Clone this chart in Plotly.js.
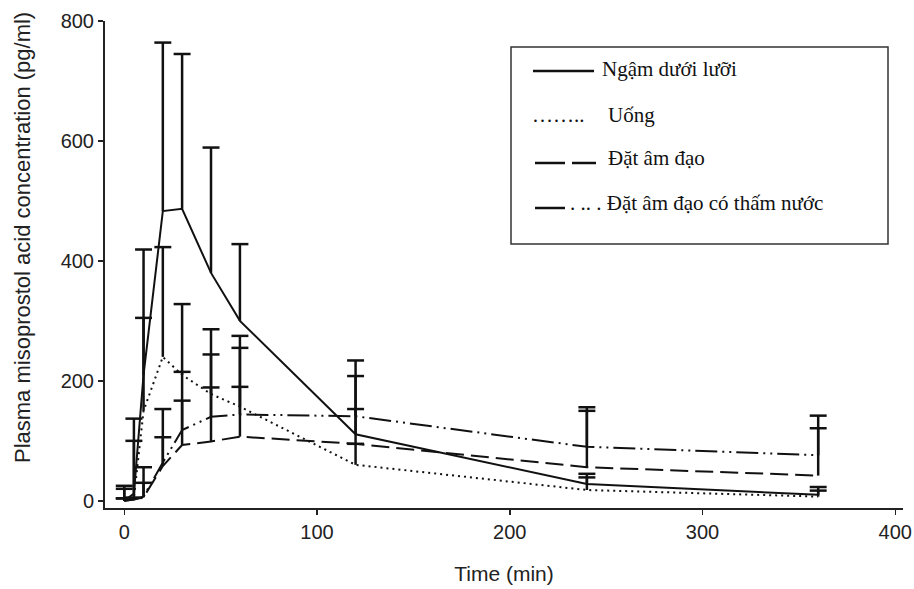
<!DOCTYPE html>
<html><head><meta charset="utf-8">
<script src="https://cdn.plot.ly/plotly-3.0.1.min.js"></script>
<style>html,body{margin:0;padding:0;background:#fff}#chart{width:914px;height:589px}</style>
</head><body><div id="chart"></div>
<script>
// Time points (min)
const times = [0, 5, 10, 20, 30, 45, 60, 120, 240, 360];

// Mean concentrations (pg/ml)
const sublingual      = [0, 12, 210, 483, 487, 380, 300, 111, 28, 10];
const oral            = [0, 5, 150, 240, 210, 178, 157, 60, 18, 7];
const vaginal         = [0, 2, 6, 58, 93, 99, 107, 95, 56, 42];
const vaginalWater    = [0, 2, 7, 64, 118, 140, 144, 141, 90, 76];

// Upper end of the error bars (mean + SD), pg/ml
const sublingualUpper   = [25, 137, 419, 764, 745, 589, 428, 234, 45, 23];
const oralUpper         = [20, 100, 305, 423, 328, 286, 275, 95, 39, 17];
const vaginalUpper      = [4, 5, 30, 106, 167, 189, 190, 153, 150, 121];
const vaginalWaterUpper = [4, 5, 56, 153, 215, 244, 255, 208, 156, 142];

const seriesNames = ["Ngậm dưới lưỡi", "Uống", "Đặt âm đạo", "Đặt âm đạo có thấm nước"];
const xTicks = [0, 100, 200, 300, 400];
const yTicks = [0, 200, 400, 600, 800];
const xTitle = "Time (min)";
const yTitle = "Plasma misoprostol acid concentration (pg/ml)";

const INK = '#111';
const CAP = 4.4; // half cap width, in minutes (about 8.5 px)

function lineTrace(y, dash, name) {
  return {x: times, y: y, type: 'scatter', mode: 'lines', name: name,
    line: {color: INK, width: 2, dash: dash}, showlegend: false, hoverinfo: 'skip'};
}
// one-sided (upward) error bars: stem from the mean to mean+SD, with a cap on top
function errTrace(y, upper) {
  const xs = [], ys = [];
  times.forEach((t, i) => {
    xs.push(t, t, null, t - CAP, t + CAP, null);
    ys.push(y[i], upper[i], null, upper[i], upper[i], null);
  });
  return {x: xs, y: ys, type: 'scatter', mode: 'lines', line: {color: INK, width: 2.5},
    showlegend: false, hoverinfo: 'skip', connectgaps: false};
}
const data = [
  errTrace(sublingual, sublingualUpper),
  errTrace(oral, oralUpper),
  errTrace(vaginal, vaginalUpper),
  errTrace(vaginalWater, vaginalWaterUpper),
  lineTrace(sublingual, 'solid', seriesNames[0]),
  lineTrace(oral, '2px,4px', seriesNames[1]),
  lineTrace(vaginal, '18px,7px', seriesNames[2]),
  lineTrace(vaginalWater, '22px,5px,2px,5px,2px,5px', seriesNames[3])
];

// pixel -> paper helpers (plot area 105..903 x 21..508)
const L = 105, R = 903, T = 21, B = 508;
const px = x => (x - L) / (R - L);
const py = y => (B - y) / (B - T);

const serif = {family: 'Liberation Serif, Times New Roman, serif', size: 21, color: INK};
const sans = 'Liberation Sans, Arial, sans-serif';

const shapes = [
  {type: 'rect', xref: 'paper', yref: 'paper', x0: px(511), x1: px(888), y0: py(244), y1: py(47),
   line: {color: '#333', width: 1.5}},
  {type: 'line', xref: 'paper', yref: 'paper', x0: px(533), x1: px(594), y0: py(71), y1: py(71),
   line: {color: INK, width: 2.5}},
  {type: 'line', xref: 'paper', yref: 'paper', x0: px(535), x1: px(596), y0: py(163), y1: py(163),
   line: {color: INK, width: 2.5, dash: '30px,7px'}},
  {type: 'line', xref: 'paper', yref: 'paper', x0: px(535), x1: px(565), y0: py(208), y1: py(208),
   line: {color: INK, width: 2.5}}
];
const ann = (x, y, text) => ({xref: 'paper', yref: 'paper', x: px(x), y: py(y), text: text,
  xanchor: 'left', yanchor: 'middle', showarrow: false, font: serif});
const annotations = [
  ann(600, 69, seriesNames[0]),
  ann(530, 115, '……..'),
  ann(606, 115, seriesNames[1]),
  ann(606, 158, seriesNames[2]),
  ann(568, 203, '. .. . ' + seriesNames[3]),
  {xref: 'paper', yref: 'paper', x: px(22), y: py(238), text: yTitle, textangle: -90,
   xanchor: 'center', yanchor: 'middle', showarrow: false,
   font: {family: sans, size: 22, color: '#222'}}
];

const axisCommon = {
  ticks: 'outside', ticklen: 5, tickwidth: 1.5, tickcolor: '#222',
  showline: true, linecolor: '#222', linewidth: 2, mirror: false,
  showgrid: false, zeroline: false,
  tickfont: {family: sans, size: 20, color: '#222'}
};
const layout = {
  width: 914, height: 589,
  margin: {l: L, r: 914 - R, t: T, b: 589 - B},
  paper_bgcolor: '#fff', plot_bgcolor: '#fff',
  showlegend: false,
  xaxis: Object.assign({}, axisCommon, {range: [-10, 404], tickvals: xTicks,
    title: {text: xTitle, font: {family: sans, size: 21, color: '#222'}, standoff: 24}}),
  yaxis: Object.assign({}, axisCommon, {range: [-12, 800], tickvals: yTicks}),
  shapes: shapes,
  annotations: annotations
};
Plotly.newPlot('chart', data, layout, {staticPlot: true, displayModeBar: false});
</script>
</body></html>
